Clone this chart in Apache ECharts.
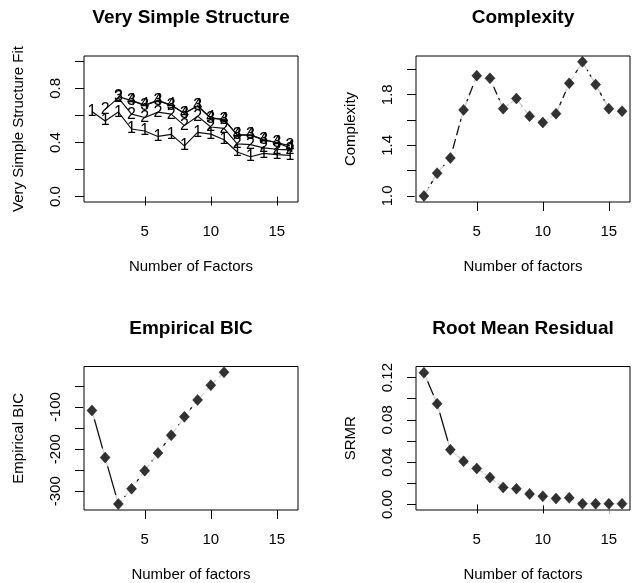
<!DOCTYPE html>
<html>
<head>
<meta charset="utf-8">
<script src="https://cdn.jsdelivr.net/npm/echarts@6/dist/echarts.min.js"></script>
<style>
html,body{margin:0;padding:0;background:#fff;}
#chart{width:632px;height:583px;}
</style>
</head>
<body>
<div id="chart"></div>
<script>
// ---- data ----
const factors = [1,2,3,4,5,6,7,8,9,10,11,12,13,14,15,16];
const vssFit1 = [0.63,0.56,0.625,0.50,0.485,0.445,0.46,0.375,0.475,0.462,0.42,0.33,0.295,0.32,0.31,0.305];
const vssFit2 = [null,0.645,0.73,0.61,0.585,0.625,0.61,0.525,0.595,0.515,0.505,0.39,0.385,0.36,0.35,0.345];
const vssFit3 = [null,null,0.74,0.71,0.675,0.71,0.675,0.615,0.67,0.58,0.57,0.455,0.455,0.42,0.40,0.375];
const vssFit4 = [null,null,null,0.712,0.677,0.712,0.677,0.617,0.672,0.582,0.572,0.457,0.457,0.422,0.398,0.36];
const complexity = [1.00,1.18,1.30,1.68,1.95,1.93,1.69,1.77,1.63,1.58,1.65,1.89,2.06,1.88,1.69,1.67];
const empiricalBIC = [-108,-220,-330,-294,-251,-209,-167,-123,-83,-48,-17,null,null,null,null,null];
const srmr = [0.1246,0.0953,0.0517,0.0408,0.034,0.0254,0.0161,0.0148,0.0099,0.0077,0.0056,0.0062,0.0006,0.0006,0.0006,0.0006];

const xTickValues = [5,10,15];
const vssTicks = [0,0.2,0.4,0.6,0.8,1.0];
const vssLabels = [0,0.4,0.8];
const cxTicks = [1.0,1.2,1.4,1.6,1.8,2.0];
const cxLabels = [1.0,1.4,1.8];
const bicTicks = [-300,-250,-200,-150,-100,-50];
const bicLabels = [-300,-200,-100];
const srmrTicks = [0,0.02,0.04,0.06,0.08,0.10,0.12];
const srmrLabels = [0,0.04,0.08,0.12];

const titles = ['Very Simple Structure','Complexity','Empirical BIC','Root Mean Residual'];
const xNames = ['Number of Factors','Number of factors','Number of factors','Number of factors'];
const yNames = ['Very Simple Structure Fit','Complexity','Empirical BIC','SRMR'];

// ---- helpers ----
const FONT = 'Liberation Sans, Arial, sans-serif';
const pairs = (ys, keep) => factors.map((x,i) => [x, (ys[i] == null || (keep && !keep(i))) ? '-' : ys[i]]);

const grids = [
  {left:84, top:56, width:214, height:146},
  {left:416, top:56, width:214, height:146},
  {left:84, top:366.5, width:214, height:146},
  {left:416, top:366.5, width:214, height:146}
].map(g => Object.assign(g, {show:true, borderColor:'#000', borderWidth:1, z:10, containLabel:false}));

function xAx(gi){
  return {
    gridIndex:gi, type:'value', min:0.4, max:16.6,
    name:xNames[gi], nameLocation:'middle', nameGap:57,
    nameTextStyle:{fontFamily:FONT, fontSize:15, color:'#000'},
    axisLine:{show:false}, splitLine:{show:false},
    axisTick:{show:true, length:9, customValues:xTickValues, lineStyle:{color:'#000', width:1}},
    axisLabel:{customValues:xTickValues, margin:22, fontFamily:FONT, fontSize:15, color:'#000'}
  };
}
function yAx(gi, min, max, ticks, labels, fmt){
  return {
    gridIndex:gi, type:'value', min:min, max:max,
    name:yNames[gi], nameLocation:'middle', nameGap:58, nameRotate:90,
    nameTextStyle:{fontFamily:FONT, fontSize:15, color:'#000'},
    axisLine:{show:false}, splitLine:{show:false},
    axisTick:{show:true, length:9, customValues:ticks, lineStyle:{color:'#000', width:1}},
    axisLabel:{customValues:labels, rotate:90, margin:21, fontFamily:FONT, fontSize:15, color:'#000', formatter:fmt}
  };
}

function vssSeries(ys, ch){
  return {
    type:'line', xAxisIndex:0, yAxisIndex:0, data:pairs(ys),
    symbol:'circle', symbolSize:1, showSymbol:true,
    itemStyle:{color:'rgba(0,0,0,0)'},
    lineStyle:{color:'#111', width:1.2},
    label:{show:true, position:'inside', formatter:ch, fontFamily:FONT, fontSize:16, color:'#000'},
    z:3, animation:false
  };
}
function bPoints(gi, ys){
  return [
    {type:'scatter', xAxisIndex:gi, yAxisIndex:gi, data:pairs(ys), symbol:'circle', symbolSize:19,
     itemStyle:{color:'#fff'}, z:4, animation:false, silent:true},
    {type:'scatter', xAxisIndex:gi, yAxisIndex:gi, data:pairs(ys), symbol:'diamond', symbolSize:[10,11],
     itemStyle:{color:'#000', borderColor:'#000', borderWidth:0.5}, z:5, animation:false}
  ];
}
function bLine(gi, ys, dash, keep){
  return {type:'line', xAxisIndex:gi, yAxisIndex:gi, data:pairs(ys, keep), showSymbol:false, symbol:'none',
    connectNulls:false, lineStyle:{color:'#111', width:1.3, type:dash}, z:3, animation:false};
}

const option = {
  backgroundColor:'#fff',
  animation:false,
  title: titles.map((t,i) => ({
    text:t, left:[191,523,191,523][i], top:[8,8,319,319][i], textAlign:'center', padding:0,
    textStyle:{fontFamily:FONT, fontSize:19, fontWeight:'bold', color:'#000'}
  })),
  grid: grids,
  xAxis: [0,1,2,3].map(xAx),
  yAxis: [
    yAx(0, -0.04, 1.04, vssTicks, vssLabels, v => v.toFixed(1)),
    yAx(1, 0.952, 2.106, cxTicks, cxLabels, v => v.toFixed(1)),
    yAx(2, -344.5, -3.5, bicTicks, bicLabels, v => String(Math.round(v))),
    yAx(3, -0.0053, 0.1305, srmrTicks, srmrLabels, v => v.toFixed(2))
  ],
  series: [
    vssSeries(vssFit1,'1'), vssSeries(vssFit2,'2'), vssSeries(vssFit4,'4'), vssSeries(vssFit3,'3'),
    bLine(1, complexity, [10,4]), ...bPoints(1, complexity),
    bLine(2, empiricalBIC, 'solid', i => i <= 2), bLine(2, empiricalBIC, [5,4], i => i >= 2), ...bPoints(2, empiricalBIC),
    bLine(3, srmr, 'solid'), ...bPoints(3, srmr)
  ]
};

const chart = echarts.init(document.getElementById('chart'), null, {renderer:'canvas'});
chart.setOption(option);
</script>
</body>
</html>
